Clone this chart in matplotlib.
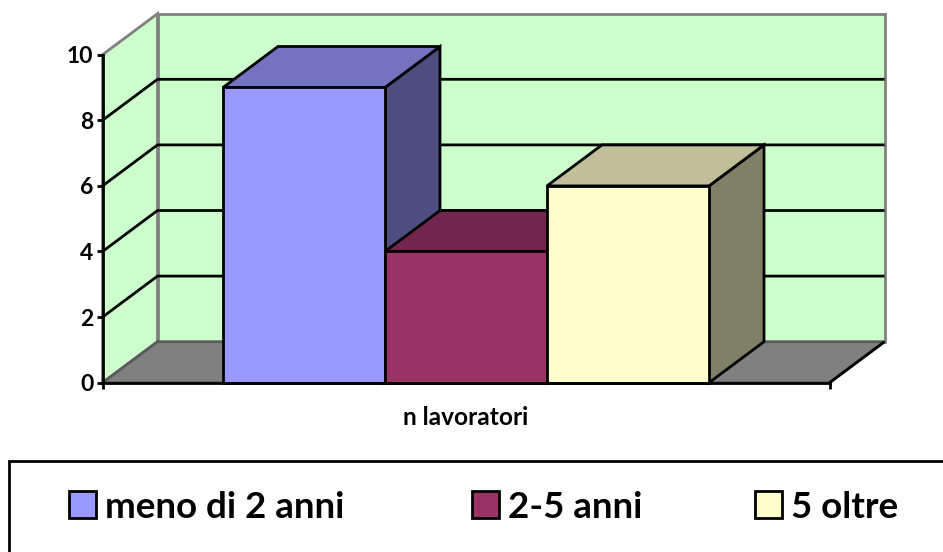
import matplotlib
matplotlib.use("Agg")
import matplotlib.pyplot as plt
from matplotlib.patches import Polygon, Rectangle

categories = ["n lavoratori"]
series_names = ["meno di 2 anni", "2-5 anni", "5 oltre"]
series_values = [9, 4, 6]
y_ticks = [0, 2, 4, 6, 8, 10]

front_colors = ["#9999FF", "#993366", "#FFFFCC"]
top_colors = ["#7373BF", "#73264D", "#BFBF99"]
side_colors = ["#4D4D80", "#4D1A33", "#808066"]
WALL = "#CCFFCC"
FLOOR = "#808080"
EDGE = "#808080"

W, H = 943, 552
plt.rcParams["font.family"] = ["Lato", "DejaVu Sans"]
plt.rcParams["font.weight"] = "bold"
fig = plt.figure(figsize=(W / 100, H / 100), dpi=100)
ax = fig.add_axes([102.5 / W, 1 - 382.7 / H, 727 / W, 328 / H])
ax.set_xlim(0, 1)
ax.set_ylim(0, 10)
ax.patch.set_visible(False)

DX = 55 / 727
DY = 41 / 32.8
LW = 2.0


def poly(pts, fc, ec="black", lw=LW, z=1):
    ax.add_patch(Polygon(pts, closed=True, facecolor=fc, edgecolor=ec, linewidth=lw,
                         clip_on=False, zorder=z, joinstyle="miter"))


def line(xs, ys, c="black", lw=LW, z=2):
    ax.plot(xs, ys, color=c, lw=lw, clip_on=False, zorder=z, solid_capstyle="butt")


# walls and floor
poly([(DX, DY), (1 + DX, DY), (1 + DX, 10 + DY), (DX, 10 + DY)], WALL, ec=EDGE, lw=LW, z=1)
poly([(0, 0), (DX, DY), (DX, 10 + DY), (0, 10)], WALL, ec=EDGE, lw=LW, z=1)
poly([(0, 0), (1, 0), (1 + DX, DY), (DX, DY)], FLOOR, ec="#5A5A5A", lw=LW, z=1.5)
for v in y_ticks[1:-1]:
    line([0, DX, 1 + DX], [v, v + DY, v + DY], z=2)
line([1, 1 + DX], [0, DY], z=2)

# bars
bar_w = 162 / 727
centers = [0.5 - bar_w, 0.5, 0.5 + bar_w]
handles = []
for i, (name, val) in enumerate(zip(series_names, series_values)):
    z = 3 + i
    x0 = centers[i] - bar_w / 2
    x1 = centers[i] + bar_w / 2
    poly([(x1, 0), (x1 + DX, DY), (x1 + DX, val + DY), (x1, val)], side_colors[i], z=z)
    poly([(x0, val), (x1, val), (x1 + DX, val + DY), (x0 + DX, val + DY)], top_colors[i], z=z)
    b = ax.bar(centers[i], val, width=bar_w, color=front_colors[i], edgecolor="black",
               linewidth=LW, zorder=z + 0.5, label=name, clip_on=False)
    handles.append(b)

# axes
for s in ["top", "right"]:
    ax.spines[s].set_visible(False)
for s in ["left", "bottom"]:
    ax.spines[s].set_linewidth(LW)
    ax.spines[s].set_zorder(10)
ax.set_yticks(y_ticks)
ax.set_xticks([0, 1])
ax.set_xticklabels(["", ""])
ax.tick_params(axis="both", length=4.5, width=LW, pad=2, labelsize=16.5)
ax.text(0.5, -1.07, categories[0], ha="center", va="center", fontsize=17.6, fontweight="bold",
        transform=ax.transData)

# legend
fig.add_artist(Rectangle((9 / W, -0.1), 1.1, 1 - 460.5 / H + 0.1, transform=fig.transFigure,
                         facecolor="white", edgecolor="black", linewidth=LW))
for handle, name, left in zip(handles, series_names, [69, 472, 755]):
    leg = fig.legend(handles=[handle], labels=[name], frameon=False,
                     loc="center left", bbox_to_anchor=(left / W, 1 - 507 / H),
                     borderpad=0, borderaxespad=0,
                     prop={"family": "Lato", "weight": "bold", "size": 26.5},
                     handlelength=0.74, handleheight=0.74, handletextpad=0.25)
    for lh in leg.legend_handles:
        lh.set_linewidth(LW)
        lh.set_edgecolor("black")

fig.savefig("out.png", dpi=100)
